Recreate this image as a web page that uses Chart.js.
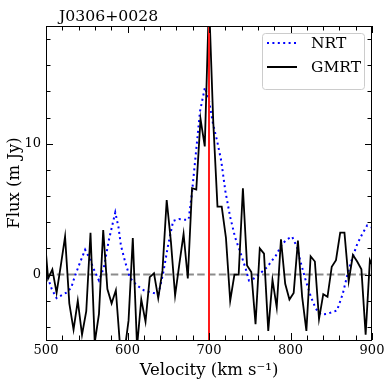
<!DOCTYPE html>
<html>
<head>
<meta charset="utf-8">
<script src="https://cdn.jsdelivr.net/npm/chart.js@4/dist/chart.umd.min.js"></script>
<style>
  body { margin: 0; background: #fff; }
  #wrap { width: 392px; height: 392px; }
</style>
</head>
<body>
<div id="wrap"><canvas id="espectro"></canvas></div>
<script>
const gmrtVel = [497.4, 502.6, 507.8, 513.0, 518.2, 523.4, 528.6, 533.8, 539.0, 544.2,
  549.4, 554.6, 559.8, 565.0, 570.2, 575.3, 580.5, 585.7, 590.9, 596.1,
  601.3, 606.5, 611.7, 616.9, 622.1, 627.3, 632.5, 637.7, 642.9, 648.1,
  653.3, 658.4, 663.6, 668.8, 674.0, 679.2, 684.4, 689.6, 694.8, 700.0,
  705.2, 710.4, 715.6, 720.8, 726.0, 731.2, 736.4, 741.6, 746.7, 751.9,
  757.1, 762.3, 767.5, 772.7, 777.9, 783.1, 788.3, 793.5, 798.7, 803.9,
  809.1, 814.3, 819.5, 824.7, 829.9, 835.0, 840.2, 845.4, 850.6, 855.8,
  861.0, 866.2, 871.4, 876.6, 881.8, 887.0, 892.2, 897.4, 902.6];
const gmrtFlux = [3.5, -0.3, 0.4, -1.4, 0.7, 2.9, -2.2, -4.2, -2.0, -4.6,
  -2.8, 3.2, -5.2, -3.0, 3.4, -1.1, -2.2, -1.2, -5.5, -6.0,
  -3.5, 2.8, -5.5, -1.9, -3.6, -0.2, 0.1, -1.8, 0.3, 5.7,
  2.5, -1.6, 0.8, 3.1, -0.3, 6.6, 6.5, 11.9, 9.8, 21.0,
  11.7, 5.2, 5.2, 2.8, -2.0, 0.0, 0.0, 6.6, 0.7, 0.2,
  -3.8, 2.0, 1.6, -4.3, -0.4, -2.5, 2.7, -0.7, -1.9, -1.4,
  2.6, -1.7, -4.3, 1.4, 1.0, -3.4, -1.5, -1.7, 0.6, 1.1,
  3.2, 3.2, -0.5, 1.5, 1.0, 0.4, -4.6, 1.1, 0.4];

const nrtVel = [500, 507, 513, 520, 526, 531, 535, 541, 548, 553,
  558, 565, 571, 577, 585, 589, 592, 597, 603, 611,
  620, 628, 638, 644, 650, 656, 663, 669, 675, 679,
  683, 689, 695, 700, 705, 710, 715, 720, 726, 732,
  739, 745, 749, 755, 763, 771, 782, 790, 796, 802,
  808, 812, 818, 825, 831, 837, 845, 857, 864, 870,
  876, 882, 888, 894, 900];
const nrtFlux = [0.2, -1.1, -1.8, -1.55, -1.35, -1.0, -0.2, 0.8, 1.9, 1.3,
  0.5, -0.45, 0.55, 2.6, 4.75, 3.6, 2.2, 1.0, -0.25, -0.8,
  -1.2, -1.35, -1.5, 0.2, 2.3, 4.1, 4.25, 4.2, 4.2, 6.2,
  8.7, 12.5, 14.3, 13.3, 11.5, 10.2, 8.7, 6.4, 4.4, 2.85,
  1.6, 0.45, -0.45, -0.3, 0.1, 0.55, 1.45, 2.35, 2.7, 2.9,
  2.1, 1.05, -0.3, -1.7, -2.6, -3.05, -3.0, -2.75, -1.5, 0.05,
  1.3, 2.35, 3.1, 3.75, 3.6];

const xMajorTicks = [500, 600, 700, 800, 900];
const xMinorTicks = [520, 540, 560, 580, 620, 640, 660, 680, 720, 740, 760, 780, 820, 840, 860, 880];
const yMajorTicks = [0, 10];
const yMinorTicks = [-4, -2, 2, 4, 6, 8, 12, 14, 16, 18];

const velLinea = 700;
const fluxBase = 0;
const xMin = 500, xMax = 900, yMin = -5, yMax = 19;

const serif = "'DejaVu Serif', serif";

const pares = (xs, ys) => xs.map((v, i) => ({ x: v, y: ys[i] }));

// marco, marcas hacia dentro, titulo y leyenda
const marcos = {
  id: "marcos",
  afterDraw(chart) {
    const { ctx, chartArea: a, scales: { x, y } } = chart;
    ctx.save();
    ctx.strokeStyle = "#000";
    ctx.lineWidth = 1;
    ctx.beginPath();
    const marcasX = (vals, len) => {
      vals.forEach((v) => {
        const px = Math.round(x.getPixelForValue(v)) + 0.5;
        ctx.moveTo(px, a.bottom); ctx.lineTo(px, a.bottom - len);
        ctx.moveTo(px, a.top); ctx.lineTo(px, a.top + len);
      });
    };
    const marcasY = (vals, len) => {
      vals.forEach((v) => {
        const py = Math.round(y.getPixelForValue(v)) + 0.5;
        ctx.moveTo(a.left, py); ctx.lineTo(a.left + len, py);
        ctx.moveTo(a.right, py); ctx.lineTo(a.right - len, py);
      });
    };
    marcasX(xMajorTicks, 7);
    marcasX(xMinorTicks, 4.5);
    marcasY(yMajorTicks, 7);
    marcasY(yMinorTicks, 4.5);
    ctx.stroke();
    ctx.strokeRect(a.left + 0.5, a.top + 0.5, a.right - a.left - 1, a.bottom - a.top);

    ctx.fillStyle = "#000";
    ctx.font = "15.7px " + serif;
    ctx.textBaseline = "alphabetic";
    ctx.textAlign = "left";
    ctx.fillText("J0306+0028", a.left + 13, a.top - 5);

    // leyenda
    const bx = 262, by = 33, bw = 102, bh = 56;
    ctx.fillStyle = "rgba(255,255,255,0.8)";
    ctx.strokeStyle = "#cccccc";
    ctx.beginPath();
    ctx.roundRect(bx + 0.5, by + 0.5, bw, bh, 3);
    ctx.fill();
    ctx.stroke();
    const entradas = [
      { label: "NRT", color: "#0000ff", dash: [2, 3.4], y: by + 10 },
      { label: "GMRT", color: "#000000", dash: [], y: by + 34 },
    ];
    ctx.font = "15.5px " + serif;
    entradas.forEach((e) => {
      ctx.strokeStyle = e.color;
      ctx.lineWidth = 2;
      ctx.setLineDash(e.dash);
      ctx.beginPath();
      ctx.moveTo(bx + 5, e.y);
      ctx.lineTo(bx + 35, e.y);
      ctx.stroke();
      ctx.setLineDash([]);
      ctx.fillStyle = "#000";
      ctx.textBaseline = "middle";
      ctx.fillText(e.label, bx + 49, e.y + 1);
    });
    ctx.restore();
  },
};

new Chart(document.getElementById("espectro"), {
  type: "line",
  data: {
    datasets: [
      {
        label: "linea",
        data: [{ x: velLinea, y: yMin }, { x: velLinea, y: yMax }],
        borderColor: "#ff1a1a",
        borderWidth: 2,
      },
      {
        label: "GMRT",
        data: pares(gmrtVel, gmrtFlux),
        borderColor: "#000000",
        borderWidth: 1.8,
      },
      {
        label: "NRT",
        data: pares(nrtVel, nrtFlux),
        borderColor: "#0000ff",
        borderWidth: 2,
        borderDash: [2, 3.4],
      },
      {
        label: "cero",
        data: [{ x: xMin, y: fluxBase }, { x: xMax, y: fluxBase }],
        borderColor: "#8c8c8c",
        borderWidth: 2,
        borderDash: [7.5, 3.3],
      },
    ],
  },
  options: {
    responsive: true,
    maintainAspectRatio: false,
    animation: false,
    elements: { point: { radius: 0 }, line: { tension: 0, fill: false } },
    layout: { padding: { top: 26, right: 20, left: 0, bottom: 0 } },
    plugins: {
      legend: { display: false },
      tooltip: { enabled: false },
    },
    scales: {
      x: {
        type: "linear",
        min: xMin,
        max: xMax,
        afterBuildTicks: (s) => { s.ticks = xMajorTicks.map((v) => ({ value: v })); },
        afterFit: (s) => { s.height = 52; },
        grid: { display: false, drawTicks: false },
        border: { display: false },
        ticks: { color: "#000", padding: 3, maxRotation: 0, font: { family: serif, size: 13 } },
        title: {
          display: true,
          text: "Velocity (km s\u207B\u00B9)",
          color: "#000",
          font: { family: serif, size: 16.5 },
          padding: { top: 0, bottom: 11 },
        },
      },
      y: {
        type: "linear",
        min: yMin,
        max: yMax,
        afterBuildTicks: (s) => { s.ticks = yMajorTicks.map((v) => ({ value: v })); },
        afterFit: (s) => { s.width = 46; },
        grid: { display: false, drawTicks: false },
        border: { display: false },
        ticks: { color: "#000", padding: 5, font: { family: serif, size: 13 } },
        title: {
          display: true,
          text: "Flux (m Jy)",
          color: "#000",
          font: { family: serif, size: 16.5 },
          padding: { top: 4.5, bottom: 0 },
        },
      },
    },
  },
  plugins: [marcos],
});
</script>
</body>
</html>
